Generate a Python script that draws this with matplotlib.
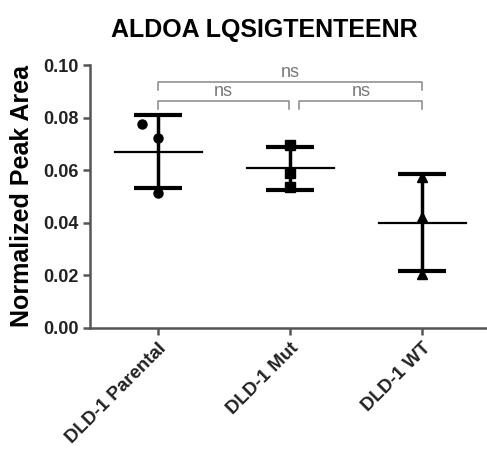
import matplotlib
matplotlib.use("Agg")
import matplotlib.pyplot as plt
import numpy as np

plt.rcParams["font.family"] = ["Liberation Sans", "DejaVu Sans"]

groups = ["DLD-1 Parental", "DLD-1 Mut", "DLD-1 WT"]
parental = [0.0776, 0.0722, 0.0513]
parental_x = [-0.12, 0.0, 0.0]
mut = [0.0696, 0.0589, 0.0536]
wt = [0.0574, 0.0422, 0.0205]
markers = ["o", "s", "^"]

# significance brackets: (x1, x2, y, label)
brackets = [(0, 2, 0.0935, "ns"), (0, 0.99, 0.0863, "ns"), (1.07, 2.0, 0.0863, "ns")]

fig = plt.figure(figsize=(4.87, 4.58), dpi=100)
ax = fig.add_axes([0.185, 0.284, 0.815, 0.574])

data = [parental, mut, wt]
xs = [parental_x, [0, 0, 0], [0, 0, 0]]
for i, (vals, dx, m) in enumerate(zip(data, xs, markers)):
    vals = np.array(vals)
    ax.plot(np.array(dx) + i, vals, m, color="black", markersize=6.5, zorder=3)
    mean, sd = vals.mean(), vals.std(ddof=1)
    ax.errorbar(i, mean, yerr=sd, fmt="none", ecolor="black", elinewidth=2.5,
                capsize=17, capthick=3, zorder=2)
    ax.plot([i - 0.33, i + 0.33], [mean, mean], color="black", lw=1.6, zorder=2)

for x1, x2, y, label in brackets:
    ax.plot([x1, x1, x2, x2], [y - 0.0029, y, y, y - 0.0029], color="#888888",
            lw=1.1, clip_on=False)
    ax.text((x1 + x2) / 2, y + 0.0004, label, ha="center", va="bottom",
            color="#777777", fontsize=13)

ax.set_xlim(-0.515, 2.49)
ax.set_ylim(0, 0.10)
ax.set_yticks(np.arange(0, 0.101, 0.02))
ax.set_yticklabels([f"{v:.2f}" for v in np.arange(0, 0.101, 0.02)], fontsize=13,
                   fontweight="bold")
ax.set_xticks(range(3))
ax.set_xticklabels(groups, rotation=45, ha="right", rotation_mode="anchor",
                   fontsize=13.5, fontweight="bold")
ax.set_ylabel("Normalized Peak Area", fontsize=18, fontweight="bold", labelpad=6)
ax.set_title("ALDOA LQSIGTENTEENR", fontsize=18, fontweight="bold", pad=20, x=0.44)

for s in ["top", "right"]:
    ax.spines[s].set_visible(False)
for s in ["left", "bottom"]:
    ax.spines[s].set_color("#555555")
    ax.spines[s].set_linewidth(1.8)
ax.tick_params(direction="out", length=5, width=1.8, color="#555555", labelcolor="#222222")

fig.savefig("out.png", dpi=100)
